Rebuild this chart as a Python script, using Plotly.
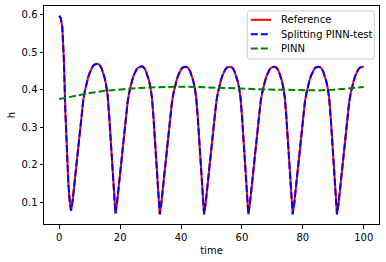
import plotly.graph_objects as go

# ---- data ----
t_ref = [
    0.0, 0.5, 1.0, 1.5, 2.0, 2.5, 3.0, 3.5,
    3.9, 4.4, 4.9, 5.4, 5.9, 6.4, 6.9, 7.4, 7.9, 8.4, 8.9, 9.4, 9.9, 10.4, 10.9, 11.4,
    11.9, 12.4, 12.9, 13.4, 13.9, 14.4, 14.9, 15.4, 15.9, 16.4, 16.9, 17.4, 17.9,
    18.45, 18.95, 19.45, 19.95, 20.45, 20.95, 21.45, 21.95, 22.45, 22.95, 23.45, 23.95,
    24.45, 24.95, 25.45, 25.95, 26.45, 26.95, 27.45, 27.95, 28.45, 28.95, 29.45, 29.95,
    30.45, 30.95, 31.45, 31.95, 32.45,
    33.0, 33.5, 34.0, 34.5, 35.0, 35.5, 36.0, 36.5, 37.0, 37.5, 38.0, 38.5, 39.0, 39.5,
    40.0, 40.5, 41.0, 41.5, 42.0, 42.5, 43.0, 43.5, 44.0, 44.5, 45.0, 45.5, 46.0, 46.5, 47.0,
    47.55, 48.05, 48.55, 49.05, 49.55, 50.05, 50.55, 51.05, 51.55, 52.05, 52.55, 53.05,
    53.55, 54.05, 54.55, 55.05, 55.55, 56.05, 56.55, 57.05, 57.55, 58.05, 58.55, 59.05,
    59.55, 60.05, 60.55, 61.05, 61.55,
    62.1, 62.6, 63.1, 63.6, 64.1, 64.6, 65.1, 65.6, 66.1, 66.6, 67.1, 67.6, 68.1, 68.6,
    69.1, 69.6, 70.1, 70.6, 71.1, 71.6, 72.1, 72.6, 73.1, 73.6, 74.1, 74.6, 75.1, 75.6, 76.1,
    76.65, 77.15, 77.65, 78.15, 78.65, 79.15, 79.65, 80.15, 80.65, 81.15, 81.65, 82.15,
    82.65, 83.15, 83.65, 84.15, 84.65, 85.15, 85.65, 86.15, 86.65, 87.15, 87.65, 88.15,
    88.65, 89.15, 89.65, 90.15, 90.65,
    91.2, 91.7, 92.2, 92.7, 93.2, 93.7, 94.2, 94.7, 95.2, 95.7, 96.2, 96.7, 97.2, 97.7,
    98.2, 98.7, 99.2, 99.7, 100.0,
]

h_reference = [
    0.597, 0.591, 0.567, 0.485, 0.345, 0.238, 0.150, 0.097,
    0.078, 0.104, 0.143, 0.182, 0.228, 0.271, 0.311, 0.344, 0.372, 0.396, 0.415, 0.430, 0.443, 0.453, 0.461, 0.466,
    0.468, 0.469, 0.468, 0.464, 0.457, 0.446, 0.432, 0.412, 0.384, 0.331, 0.265, 0.180, 0.113,
    0.070, 0.096, 0.136, 0.176, 0.223, 0.266, 0.306, 0.339, 0.367, 0.391, 0.410, 0.425,
    0.438, 0.448, 0.455, 0.459, 0.461, 0.462, 0.461, 0.457, 0.450, 0.439, 0.425, 0.406,
    0.378, 0.326, 0.262, 0.178, 0.112,
    0.068, 0.095, 0.135, 0.175, 0.222, 0.265, 0.305, 0.338, 0.366, 0.390, 0.409, 0.424, 0.437, 0.447,
    0.454, 0.459, 0.461, 0.461, 0.460, 0.456, 0.449, 0.438, 0.424, 0.405, 0.377, 0.325, 0.261, 0.177, 0.111,
    0.068, 0.095, 0.135, 0.175, 0.222, 0.265, 0.305, 0.338, 0.366, 0.390, 0.409, 0.424,
    0.437, 0.447, 0.454, 0.459, 0.461, 0.461, 0.460, 0.456, 0.449, 0.438, 0.424, 0.405,
    0.377, 0.325, 0.261, 0.177, 0.111,
    0.068, 0.095, 0.135, 0.175, 0.222, 0.265, 0.305, 0.338, 0.366, 0.390, 0.409, 0.424, 0.437, 0.447,
    0.454, 0.459, 0.461, 0.461, 0.460, 0.456, 0.449, 0.438, 0.424, 0.405, 0.377, 0.325, 0.261, 0.177, 0.111,
    0.068, 0.095, 0.135, 0.175, 0.222, 0.265, 0.305, 0.338, 0.366, 0.390, 0.409, 0.424,
    0.437, 0.447, 0.454, 0.459, 0.461, 0.461, 0.460, 0.456, 0.449, 0.438, 0.424, 0.405,
    0.377, 0.325, 0.261, 0.177, 0.111,
    0.068, 0.095, 0.135, 0.175, 0.222, 0.265, 0.305, 0.338, 0.366, 0.390, 0.409, 0.424, 0.437, 0.447,
    0.454, 0.459, 0.461, 0.461, 0.461,
]

# Splitting PINN-test is visually indistinguishable from the reference
h_splitting = list(h_reference)

t_pinn = [0, 5, 10, 15, 20, 25, 30, 35, 40, 45, 50, 55, 60, 65, 70, 75, 80, 85, 90, 95, 100]
h_pinn = [0.375, 0.384, 0.391, 0.397, 0.401, 0.404, 0.406, 0.408, 0.408, 0.407, 0.406,
          0.405, 0.403, 0.401, 0.400, 0.398, 0.398, 0.398, 0.400, 0.403, 0.407]

x_ticks = [0, 20, 40, 60, 80, 100]
y_ticks = [0.1, 0.2, 0.3, 0.4, 0.5, 0.6]

series_names = ["Reference", "Splitting PINN-test", "PINN"]
series_colors = ["#ff0000", "#0000ff", "#008000"]
series_dash = ["solid", "7px,3px", "7px,3px"]

FONT = "DejaVu Sans"
W, H = 386, 262
ML, MR, MT, MB = 44, 7, 6, 38
PW, PH = W - ML - MR, H - MT - MB


def px_to_paper(px, py):
    return (px - ML) / PW, (H - MB - py) / PH


fig = go.Figure()
fig.add_trace(go.Scatter(x=t_ref, y=h_reference, mode="lines", name=series_names[0],
                         showlegend=False,
                         line=dict(color=series_colors[0], width=2, dash=series_dash[0])))
fig.add_trace(go.Scatter(x=t_ref, y=h_splitting, mode="lines", name=series_names[1],
                         showlegend=False,
                         line=dict(color=series_colors[1], width=2, dash=series_dash[1])))
fig.add_trace(go.Scatter(x=t_pinn, y=h_pinn, mode="lines", name=series_names[2],
                         showlegend=False,
                         line=dict(color=series_colors[2], width=2, dash=series_dash[2])))

# ---- matplotlib-style legend box (rounded) ----
bx0, bx1, by0, by1 = 247.3, 374.3, 11.0, 59.0
r = 2.5
(x0, y0), (x1, y1) = px_to_paper(bx0, by0), px_to_paper(bx1, by1)
rx, ry = r / PW, r / PH
path = (f"M {x0+rx},{y0} L {x1-rx},{y0} Q {x1},{y0} {x1},{y0-ry} "
        f"L {x1},{y1+ry} Q {x1},{y1} {x1-rx},{y1} "
        f"L {x0+rx},{y1} Q {x0},{y1} {x0},{y1+ry} "
        f"L {x0},{y0-ry} Q {x0},{y0} {x0+rx},{y0} Z")
shapes = [dict(type="path", path=path, xref="paper", yref="paper",
               fillcolor="rgba(255,255,255,0.8)", line=dict(color="#cccccc", width=1),
               layer="above")]
annotations = []
row_y = [19.8, 34.2, 48.6]
for name, col, dash, ry_px in zip(series_names, series_colors, series_dash, row_y):
    lx0, ly = px_to_paper(250.8, ry_px)
    lx1, _ = px_to_paper(271.0, ry_px)
    shapes.append(dict(type="line", xref="paper", yref="paper", x0=lx0, x1=lx1, y0=ly, y1=ly,
                       line=dict(color=col, width=2, dash=dash), layer="above"))
    tx, ty = px_to_paper(279.0, ry_px)
    annotations.append(dict(text=name, xref="paper", yref="paper", x=tx, y=ty,
                            xanchor="left", yanchor="middle", showarrow=False,
                            font=dict(family=FONT, size=10, color="black")))

axis_common = dict(
    showgrid=False, zeroline=False, automargin=False,
    showline=True, linecolor="black", linewidth=1, mirror=True,
    ticks="outside", ticklen=3.5, tickwidth=0.8, tickcolor="black",
    tickfont=dict(family=FONT, size=10, color="black"),
)

fig.update_layout(
    width=W, height=H,
    margin=dict(l=ML, r=MR, t=MT, b=MB, autoexpand=False),
    paper_bgcolor="white", plot_bgcolor="white",
    font=dict(family=FONT, size=10, color="black"),
    showlegend=False,
    shapes=shapes,
    annotations=annotations,
    xaxis=dict(axis_common, range=[-5, 105], tickmode="array", tickvals=x_ticks,
               ticktext=[str(v) for v in x_ticks],
               title=dict(text="time", font=dict(family=FONT, size=10), standoff=5)),
    yaxis=dict(axis_common, range=[0.042, 0.623], tickmode="array", tickvals=y_ticks,
               ticktext=[f"{v:.1f}" for v in y_ticks],
               title=dict(text="h", font=dict(family=FONT, size=10), standoff=4)),
)

fig.write_html(
    "out.html",
    config={"displayModeBar": False},
    post_script="document.body.style.margin='0';document.body.style.padding='0';",
)
